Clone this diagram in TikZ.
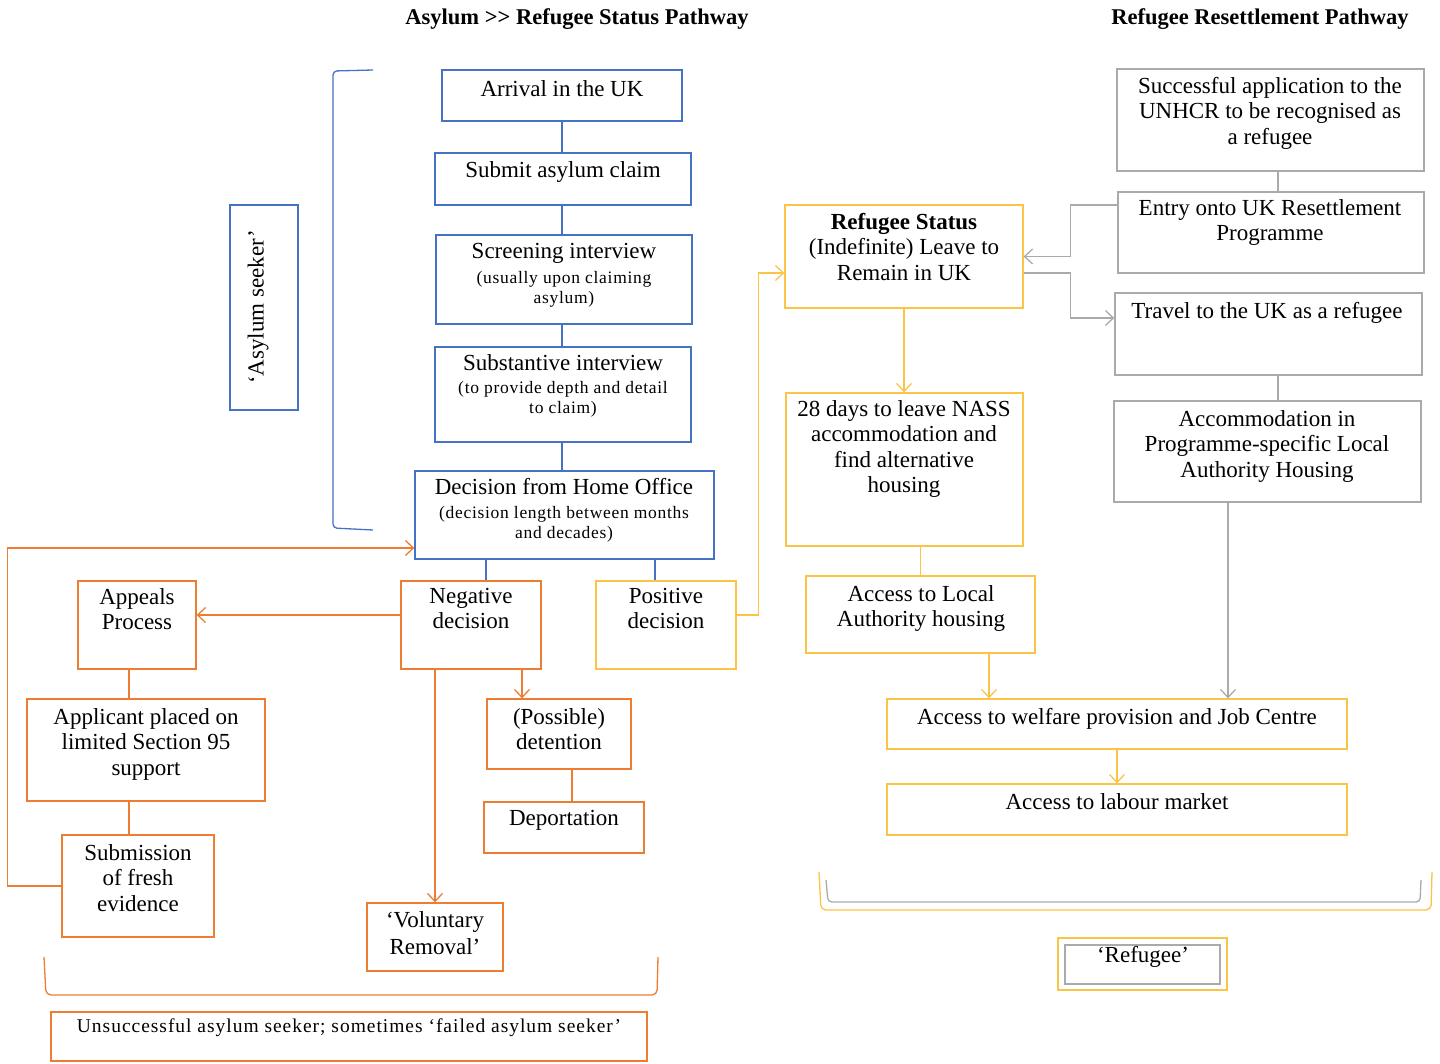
\documentclass[tikz,border=0pt]{standalone}
\usepackage{fontspec}
\setmainfont{Liberation Serif}
\usetikzlibrary{arrows.meta,fit}
\definecolor{bC}{RGB}{68,114,196}
\definecolor{oC}{RGB}{237,125,49}
\definecolor{yC}{RGB}{252,196,70}
\definecolor{gC}{RGB}{170,170,170}
\newcommand\mainf{\fontsize{23}{25.5}\selectfont}
\newcommand\smallf{\fontsize{17.5}{20}\selectfont\addfontfeatures{LetterSpace=4}}
\newcommand\unsf{\fontsize{19.5}{22}\selectfont\addfontfeatures{LetterSpace=5}}
\begin{document}
\begin{tikzpicture}[x=1pt,y=-1pt,
  frame/.style={draw=#1,line width=1.3pt,inner sep=0pt},
  txt/.style={inner sep=0pt,align=center,font=\mainf,anchor=north},
  stxt/.style={inner sep=0pt,align=center,font=\smallf,anchor=north},
  conn/.style={draw=#1,line width=1.3pt},
  arr/.style={conn=#1,-{Straight Barb[length=8pt,width=15pt,line width=1.3pt]}},
  ttl/.style={inner sep=0pt,font=\fontsize{22.5}{24}\selectfont\bfseries,anchor=north}]
\useasboundingbox (0,0) rectangle (1440,1063);

% titles
\node[ttl] (t1) at (577,8) {Asylum >{}> Refugee Status Pathway};
\node[ttl] (t2) at (1260,8) {Refugee Resettlement Pathway};

% blue column
\node[frame=bC,fit={(230,205)(298,410)}] (as) {};
\node[inner sep=0pt,font=\mainf,rotate=90] (ast) at (258,307) {‘Asylum seeker’};
\node[frame=bC,fit={(442,70)(682,121)}] (arv) {};
\node[txt] (arvt) at (562,80) {Arrival in the UK};
\node[frame=bC,fit={(435,153)(691,205)}] (sub) {};
\node[txt] (subt) at (563,161) {Submit asylum claim};
\node[frame=bC,fit={(436,235)(692,324)}] (scr) {};
\node[txt] (scrt) at (564,243) {Screening interview};
\node[stxt] (scrs) at (564,271) {(usually upon claiming\\asylum)};
\node[frame=bC,fit={(435,347)(691,442)}] (sbs) {};
\node[txt] (sbst) at (563,354) {Substantive interview};
\node[stxt] (sbss) at (563,381) {(to provide depth and detail\\to claim)};
\node[frame=bC,fit={(415,471)(714,559)}] (dec) {};
\node[txt] (dect) at (564,478) {Decision from Home Office};
\node[stxt] (decs) at (564,506) {(decision length between months\\and decades)};

\draw[conn=bC] (arv.south) -- (arv.south |- sub.north);
\draw[conn=bC] (arv.south |- sub.south) -- (arv.south |- scr.north);
\draw[conn=bC] (arv.south |- scr.south) -- (arv.south |- sbs.north);
\draw[conn=bC] (arv.south |- sbs.south) -- (arv.south |- dec.north);
\draw[conn=bC,rounded corners=4pt] (373,70) -- (333,71) -- (333,528) -- (373,530);

% orange/left
\node[frame=oC,fit={(78,581)(196,669)}] (app) {};
\node[txt] (appt) at (137,588) {Appeals\\Process};
\node[frame=oC,fit={(401,581)(541,669)}] (neg) {};
\node[txt] (negt) at (471,588) {Negative\\decision};
\node[frame=yC,fit={(596,581)(736,669)}] (pos) {};
\node[txt] (post) at (666,588) {Positive\\decision};
\node[frame=oC,fit={(27,699)(265,801)}] (apl) {};
\node[txt] (aplt) at (146,708) {Applicant placed on\\limited Section 95\\support};
\node[frame=oC,fit={(62,835)(214,937)}] (sbm) {};
\node[txt] (sbmt) at (138,844) {Submission\\of fresh\\evidence};
\node[frame=oC,fit={(487,699)(631,769)}] (det) {};
\node[txt] (dett) at (559,708) {(Possible)\\detention};
\node[frame=oC,fit={(484,802)(644,853)}] (dep) {};
\node[txt] (dept) at (564,810) {Deportation};
\node[frame=oC,fit={(367,903)(503,971)}] (vol) {};
\node[txt,font=\fontsize{23}{27}\selectfont] (volt) at (435,911) {‘Voluntary\\Removal’};
\node[frame=oC,fit={(51,1012)(647,1061)}] (uns) {};
\node[txt,font=\unsf] (unst) at (349,1019) {Unsuccessful asylum seeker; sometimes ‘failed asylum seeker’};

\draw[conn=bC] ([xshift=15pt]neg.north |- dec.south) -- ([xshift=15pt]neg.north);
\draw[conn=bC] ([xshift=-11pt]pos.north |- dec.south) -- ([xshift=-11pt]pos.north);
\draw[arr=oC] ([yshift=10pt]neg.west) -- ([yshift=10pt]neg.west -| app.east);
\draw[conn=oC] ([xshift=-8pt]app.south) -- ([xshift=-8pt]app.south |- apl.north);
\draw[conn=oC] ([xshift=-9pt]sbm.north |- apl.south) -- ([xshift=-9pt]sbm.north);
\draw[arr=oC] (sbm.west) -- ++(-54,0) |- ([yshift=-33pt]dec.west);
\draw[arr=oC] (vol.north |- neg.south) -- (vol.north);
\draw[arr=oC] ([xshift=-37pt]det.north |- neg.south) -- ([xshift=-37pt]det.north);
\draw[conn=oC] ([xshift=13pt]det.south) -- ([xshift=13pt]det.south |- dep.north);
\draw[conn=oC,rounded corners=5pt] (44,957) -- (46,995) -- (657,995) -- (658,957);

% yellow/right
\node[frame=yC,fit={(785,205)(1023,308)}] (rs) {};
\node[txt] (rst) at (904,213) {\textbf{Refugee Status}\\(Indefinite) Leave to\\Remain in UK};
\node[frame=yC,fit={(786,393)(1023,546)}] (nass) {};
\node[txt] (nasst) at (904,400) {28 days to leave NASS\\accommodation and\\find alternative\\housing};
\node[frame=yC,fit={(806,576)(1035,653)}] (loc) {};
\node[txt] (loct) at (921,585) {Access to Local\\Authority housing};
\node[frame=yC,fit={(887,699)(1347,749)}] (wel) {};
\node[txt] (welt) at (1117,708) {Access to welfare provision and Job Centre};
\node[frame=yC,fit={(887,784)(1347,835)}] (lab) {};
\node[txt] (labt) at (1117,793) {Access to labour market};

\draw[arr=yC] ([yshift=10pt]pos.east) -- ++(22,0) |- ([yshift=-16.5pt]rs.west);
\draw[arr=yC] (rs.south) -- (rs.south |- nass.north);
\draw[conn=yC] (loc.north |- nass.south) -- (loc.north);
\draw[arr=yC] ([xshift=68.5pt]loc.south) -- ([xshift=68.5pt]loc.south |- wel.north);
\draw[arr=yC] (wel.south) -- (lab.north);
\draw[conn=yC,rounded corners=5pt] (819,872) -- (821,910) -- (1431,910) -- (1432,872);
\draw[conn=gC,rounded corners=4pt] (826,880) -- (828,902) -- (1420,902) -- (1421,880);

\node[frame=yC,fit={(1058,938)(1227,990)}] (refo) {};
\node[frame=gC,fit={(1065,945)(1220,984)}] (refi) {};
\node[txt] (reft) at (1143,946) {‘Refugee’};

% grey column
\node[frame=gC,fit={(1117,69)(1424,171)}] (suc) {};
\node[txt] (suct) at (1270,77) {Successful application to the\\UNHCR to be recognised as\\a refugee};
\node[frame=gC,fit={(1118,192)(1424,273)}] (ent) {};
\node[txt] (entt) at (1270,199) {Entry onto UK Resettlement\\Programme};
\node[frame=gC,fit={(1115,293)(1422,375)}] (trv) {};
\node[txt] (trvt) at (1267,302) {Travel to the UK as a refugee};
\node[frame=gC,fit={(1114,401)(1421,502)}] (acc) {};
\node[txt] (acct) at (1267,410) {Accommodation in\\Programme-specific Local\\Authority Housing};

\draw[conn=gC] ([xshift=7.5pt]suc.south) -- ([xshift=7.5pt]suc.south |- ent.north);
\draw[arr=gC] ([yshift=27.5pt]ent.west) -- ++(-47,0) |- (rs.east);
\draw[arr=gC] ([yshift=-16.5pt]rs.east) -- ++(47,0) |- ([yshift=16pt]trv.west);
\draw[conn=gC] ([xshift=9.5pt]trv.south) -- ([xshift=9.5pt]trv.south |- acc.north);
\draw[arr=gC] ([xshift=-39.5pt]acc.south) -- ([xshift=-39.5pt]acc.south |- wel.north);
\end{tikzpicture}
\end{document}
